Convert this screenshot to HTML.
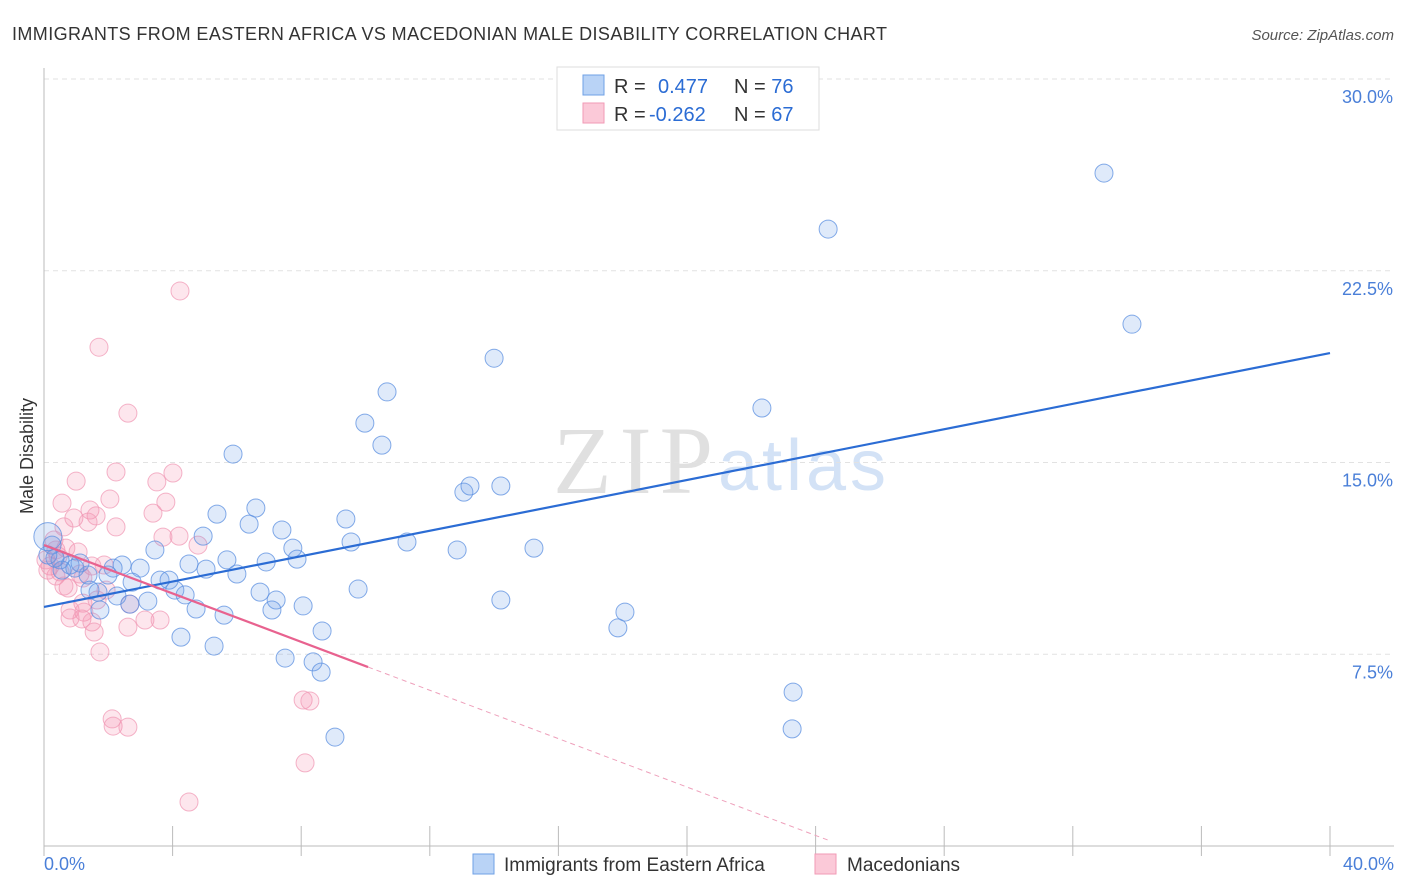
<!DOCTYPE html>
<html><head><meta charset="utf-8"><style>
body{margin:0;background:#fff;font-family:"Liberation Sans",sans-serif}
svg{display:block}
</style></head><body>
<svg id="chart" width="1406" height="892">
<text x="12" y="40" font-size="18" fill="#333" textLength="875">IMMIGRANTS FROM EASTERN AFRICA VS MACEDONIAN MALE DISABILITY CORRELATION CHART</text>
<text x="1394" y="40" font-size="15" fill="#555" font-style="italic" text-anchor="end">Source: ZipAtlas.com</text>
<text x="33" y="456" font-size="18" fill="#333" transform="rotate(-90 33 456)" text-anchor="middle">Male Disability</text>
<text x="553" y="493" font-size="96" fill="#e0e0e0" font-family="Liberation Serif,serif" textLength="160">ZIP</text>
<text x="718" y="490" font-size="72" fill="#d3e2f6" textLength="168">atlas</text>
<g id="grid"></g><g id="pts"></g><g id="lines"></g>
<g>
<rect x="557" y="67" width="262" height="63" fill="#fff" stroke="#ddd"/>
<rect x="583" y="75" width="21" height="20" fill="#b9d3f6" stroke="#6fa0e6"/>
<rect x="583" y="103" width="21" height="20" fill="#fbc9d8" stroke="#f19ab6"/>
<text x="614" y="93" font-size="20" fill="#333">R = <tspan x="658" fill="#2b6cd4">0.477</tspan><tspan x="734" fill="#333">N = </tspan><tspan fill="#2b6cd4">76</tspan></text>
<text x="614" y="121" font-size="20" fill="#333">R = <tspan x="649" fill="#2b6cd4">-0.262</tspan><tspan x="734" fill="#333">N = </tspan><tspan fill="#2b6cd4">67</tspan></text>
</g>
<g>
<rect x="473" y="854" width="21" height="20" fill="#b9d3f6" stroke="#6fa0e6"/>
<text x="504" y="871" font-size="19" fill="#333">Immigrants from Eastern Africa</text>
<rect x="815" y="854" width="21" height="20" fill="#fbc9d8" stroke="#f19ab6"/>
<text x="847" y="871" font-size="19" fill="#333">Macedonians</text>
</g>
<text x="44" y="870" font-size="18" fill="#4a7fd8">0.0%</text>
<text x="1394" y="870" font-size="18" fill="#4a7fd8" text-anchor="end">40.0%</text>
</svg>
<script>
const yTicks=[7.5,15,22.5,30];
const yTickLabels=["7.5%","15.0%","22.5%","30.0%"];
const blueX=[32.97,24.39,33.84,14.00,22.33,10.67,9.98,10.51,5.88,13.06,13.25,14.21,6.59,5.38,6.38,7.40,9.39,4.95,3.45,7.74,9.55,11.29,12.85,15.24,5.69,6.91,7.87,4.51,5.04,6.00,2.43,2.99,2.15,3.61,3.89,2.74,4.07,4.39,1.68,2.27,3.23,2.67,4.73,5.60,6.72,7.22,7.09,8.06,9.77,14.21,18.07,17.85,8.65,4.26,5.29,7.50,8.37,8.62,23.30,23.27,9.05,1.99,1.37,1.74,0.81,0.50,0.25,0.96,1.12,0.56,0.34,1.43,0.12];
const blueY=[26.32,24.13,20.41,19.08,17.13,17.76,16.54,15.68,15.33,13.84,14.08,14.08,13.22,12.98,12.59,12.36,12.79,12.12,11.58,11.65,11.89,11.89,11.58,11.65,11.19,11.11,11.22,11.03,10.83,10.64,10.99,10.87,10.87,10.40,10.40,10.32,10.01,9.82,9.93,9.78,9.58,9.46,9.27,9.03,9.93,9.62,9.23,9.39,10.05,9.62,9.15,8.53,8.41,8.17,7.82,7.35,7.20,6.80,6.02,4.58,4.26,10.60,10.60,9.23,10.99,11.19,11.77,10.87,11.07,10.79,11.26,10.01,11.38];
const pinkX=[4.23,1.71,2.61,1.00,2.24,4.01,3.51,0.56,2.05,3.79,3.39,1.43,1.62,0.93,0.62,1.37,2.24,4.20,3.70,4.79,0.31,0.37,1.06,1.49,1.87,0.19,0.06,0.50,1.12,0.75,1.21,0.37,0.12,1.93,1.21,1.65,2.67,0.81,1.24,0.81,1.18,1.49,2.61,3.14,3.61,1.56,1.74,2.12,2.15,2.61,8.06,8.27,8.12,4.51,0.62,0.44,0.68];
const pinkY=[21.71,19.51,16.93,14.27,14.63,14.59,14.24,13.41,13.57,13.45,13.02,13.14,12.91,12.83,12.48,12.67,12.48,12.12,12.08,11.77,11.97,11.58,11.50,10.95,10.99,10.95,11.19,10.72,10.64,10.09,10.48,10.56,10.79,10.01,9.50,9.62,9.46,9.23,9.15,8.92,8.88,8.76,8.56,8.84,8.84,8.37,7.59,4.97,4.69,4.65,5.71,5.67,3.25,1.72,10.17,11.34,11.65];
const blueTrend=[[0,9.35],[40,19.28]];
const pinkTrendSolid=[[0,11.77],[10.08,7.0]];
const pinkTrendDash=[[10.08,7.0],[24.45,0.2]];

const NS='http://www.w3.org/2000/svg';
const X=v=>44+v/40*1286, Y=v=>846-v/30*767;
function mk(tag,a,parent){const e=document.createElementNS(NS,tag);for(const k in a)e.setAttribute(k,a[k]);parent.appendChild(e);return e;}
const grid=document.getElementById('grid'),pts=document.getElementById('pts'),lines=document.getElementById('lines');
yTicks.forEach((t,i)=>{
 const l=mk('line',{x1:44,x2:1394,y1:Y(t),y2:Y(t),stroke:'#e2e2e2','stroke-dasharray':'5,4'},grid);
 
 
 const tx=mk('text',{x:1393,y:Y(t)+24,'font-size':18,fill:'#4a7fd8','text-anchor':'end'},grid);
 tx.textContent=yTickLabels[i];
 
 
});
const ax=mk('line',{x1:44,x2:44,y1:68,y2:846,stroke:'#bbb'},grid);


const bx=mk('line',{x1:44,x2:1394,y1:846,y2:846,stroke:'#bbb'},grid);


for(let k=0;k<=10;k++){const t=mk('line',{x1:X(k*4),x2:X(k*4),y1:826,y2:846+10,stroke:'#bbb'},grid);
 
 }
function dots(xs,ys,fill,stroke,name){xs.forEach((x,i)=>{
 const c=mk('circle',{cx:X(x),cy:Y(ys[i]),r:9,fill:fill,stroke:stroke,'stroke-width':1,'stroke-opacity':0.75},pts);
 
 });}
dots(pinkX,pinkY,'rgba(244,140,175,0.22)','#f09ab5','macedonians-point');
dots(blueX,blueY,'rgba(110,160,232,0.22)','#5b8fe0','eastern-africa-point');
const big=mk('circle',{cx:X(0.12),cy:Y(12.1),r:14,fill:'rgba(110,160,232,0.22)',stroke:'#5b8fe0','stroke-opacity':0.75},pts);


function ln(p,stroke,w,dash,name){const l=mk('line',{x1:X(p[0][0]),y1:Y(p[0][1]),x2:X(p[1][0]),y2:Y(p[1][1]),stroke:stroke,'stroke-width':w},lines);
 if(dash)l.setAttribute('stroke-dasharray',dash);
 
 }
ln(blueTrend,'#2b6cd4',2.2,null,'blue-trend-line');
ln(pinkTrendSolid,'#e8628f',2.2,null,'pink-trend-line');
ln(pinkTrendDash,'#eea0bb',1,'5,4','pink-trend-extension');
</script>
</body></html>
